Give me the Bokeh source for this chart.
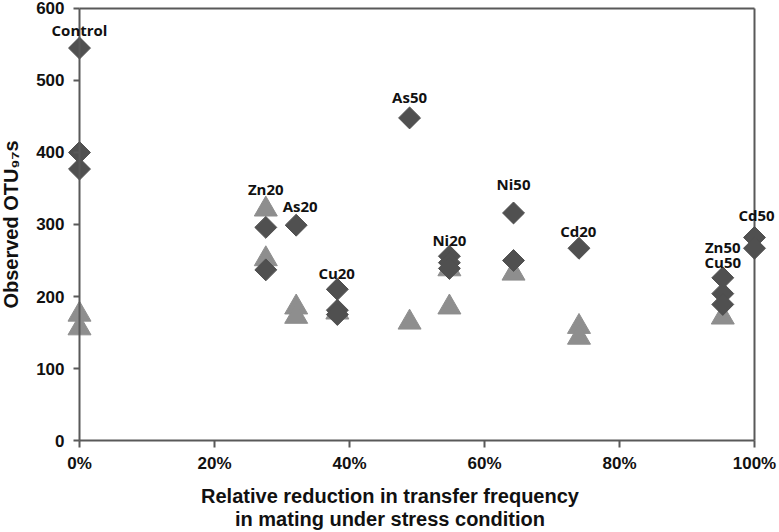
import math
from bokeh.plotting import figure
from bokeh.models import Range1d, NumeralTickFormatter, FixedTicker, LabelSet, ColumnDataSource
from bokeh.core.properties import value
from bokeh.embed import file_html
from bokeh.resources import INLINE

# ---- data (relative reduction as fraction, observed OTU97s) ----
diamond_x = [0, 0, 0,
             0.276, 0.276,
             0.321,
             0.382, 0.382, 0.382,
             0.489,
             0.548, 0.548, 0.548,
             0.643, 0.643,
             0.740,
             0.953, 0.953, 0.953,
             1.0, 1.0]
diamond_y = [545, 400, 377,
             296, 237,
             299,
             210, 181, 175,
             448,
             256, 247, 239,
             316, 250,
             267,
             226, 204, 189,
             282, 267]

tri_x = [0, 0, 0.276, 0.276, 0.321, 0.321, 0.382, 0.489, 0.548, 0.548, 0.643, 0.740, 0.740, 0.953]
tri_y = [175, 156, 321, 252, 185, 172, 178, 164, 185, 238, 232, 158, 143, 171]

label_text = ["Control", "Zn20", "As20", "Cu20", "As50", "Ni20", "Ni50", "Cd20", "Zn50", "Cu50", "Cd50"]
label_x = [0.0, 0.276, 0.327, 0.381, 0.489, 0.548, 0.643, 0.739, 0.953, 0.953, 1.003]
label_y = [570, 349, 325, 233, 477, 279, 356, 291, 269, 248, 313]

x_ticks = [0, 0.2, 0.4, 0.6, 0.8, 1.0]
y_ticks = [0, 100, 200, 300, 400, 500, 600]

DIAMOND = "#505050"
TRIANGLE = "#8e8e8e"
AXIS = "#595959"
TEXT = "#111111"

p = figure(width=779, height=532, output_backend="svg", toolbar_location=None,
           x_range=Range1d(-0.11704, 1.03704), y_range=Range1d(-9.68, 611.06),
           min_border_left=0, min_border_right=0, min_border_top=0, min_border_bottom=83)
p.outline_line_color = None
p.grid.visible = False

# plot box: bottom, top and right lines
p.segment(x0=[0, 0, 1], y0=[0, 600, 0], x1=[1, 1, 1], y1=[0, 600, 600],
          line_color=AXIS, line_width=2)

p.scatter(tri_x, tri_y, marker="triangle", size=23, fill_color=TRIANGLE, line_color=TRIANGLE)
p.scatter(diamond_x, diamond_y, marker="square", angle=math.pi / 4, size=15.5,
          fill_color=DIAMOND, line_color=DIAMOND)

labels = LabelSet(x="x", y="y", text="t",
                  source=ColumnDataSource(dict(x=label_x, y=label_y, t=label_text)),
                  text_align="center", text_baseline="middle",
                  text_font=value("Open Sans"), text_font_style="bold",
                  text_font_size="15px", text_color=TEXT)
p.add_layout(labels)

xa = p.xaxis[0]
xa.bounds = (0, 1)
xa.ticker = FixedTicker(ticks=x_ticks)
xa.formatter = NumeralTickFormatter(format="0%")
xa.axis_label = "Relative reduction in transfer frequency\nin mating under stress condition"
xa.axis_line_color = None
xa.major_tick_out = 0
xa.major_tick_in = 7
xa.major_label_standoff = 6
xa.axis_label_standoff = 9
xa.axis_label_text_font_size = "20px"
xa.axis_label_text_line_height = 1.05

ya = p.yaxis[0]
ya.fixed_location = 0
ya.bounds = (0, 600)
ya.ticker = FixedTicker(ticks=y_ticks)
ya.axis_label = "Observed OTU\u2089\u2087s"
ya.axis_line_color = AXIS
ya.axis_line_width = 2
ya.major_tick_out = 6
ya.major_tick_in = 0
ya.major_label_standoff = 9
ya.axis_label_standoff = 11
ya.axis_label_text_font_size = "20px"

for ax in (xa, ya):
    ax.major_tick_line_color = AXIS
    ax.major_tick_line_width = 2
    ax.minor_tick_line_color = None
    ax.major_label_text_font = "Liberation Sans"
    ax.major_label_text_font_style = "bold"
    ax.major_label_text_font_size = "17px"
    ax.major_label_text_color = TEXT
    ax.axis_label_text_font = "Liberation Sans"
    ax.axis_label_text_font_style = "bold"
    ax.axis_label_text_color = TEXT

open("out.html", "w").write(file_html(p, INLINE))
